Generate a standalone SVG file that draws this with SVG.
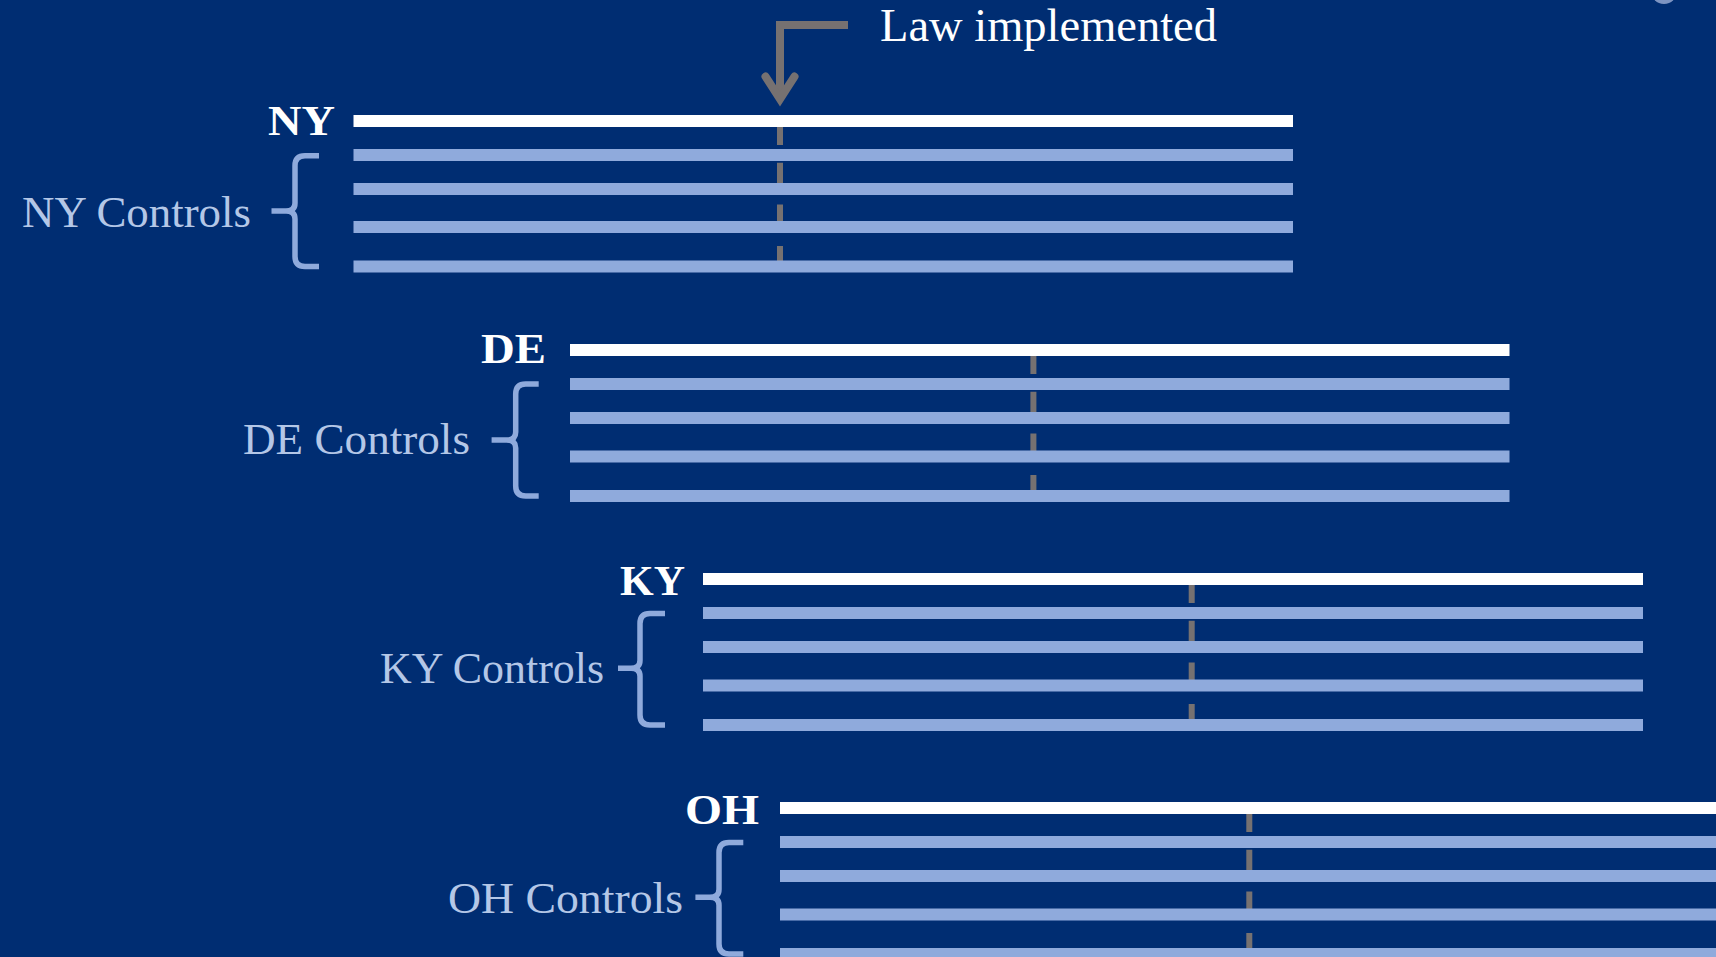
<svg xmlns="http://www.w3.org/2000/svg" width="1716" height="957" viewBox="0 0 1716 957">
  <defs>
    <style>
      .bg { fill: #002D72; }
      .treat { fill: #FFFFFF; }
      .ctrl { fill: #8FAADC; }
      .cut { stroke: #767171; stroke-width: 6; stroke-dasharray: 24 17.7; fill: none; }
      .brace { stroke: #8FAADC; stroke-width: 5.5; fill: none; stroke-linecap: butt; stroke-linejoin: round; }
      .state { font-family: "Liberation Serif", "Times New Roman", serif; font-weight: bold; font-size: 43px; fill: #FFFFFF; }
      .ctlabel { font-family: "Liberation Serif", "Times New Roman", serif; font-size: 45px; fill: #B4C7E7; }
      .note { font-family: "Liberation Serif", "Times New Roman", serif; font-size: 46px; fill: #FFFFFF; }
      .pointer { stroke: #767171; stroke-width: 8; fill: none; }
    </style>
  </defs>

  <rect class="bg" x="0" y="0" width="1716" height="957"/>
  <circle cx="1664" cy="-9" r="13" fill="#7D94C2"/>

  <!-- New York -->
  <g id="ny">
    <line class="cut" x1="780" y1="121" x2="780" y2="266"/>
    <rect class="treat" x="353.5" y="115" width="939.5" height="12"/>
    <rect class="ctrl" x="353.5" y="149" width="939.5" height="12"/>
    <rect class="ctrl" x="353.5" y="183" width="939.5" height="12"/>
    <rect class="ctrl" x="353.5" y="221" width="939.5" height="12"/>
    <rect class="ctrl" x="353.5" y="260.5" width="939.5" height="12"/>
    <text class="state" x="335" y="135" text-anchor="end" textLength="67" lengthAdjust="spacingAndGlyphs">NY</text>
    <path class="brace" d="M319,155.8 H305 Q295,155.8 295,165.8 V203 Q295,211 286,211 H271.5 M286,211 Q295,211 295,219 V256.5 Q295,266.5 305,266.5 H319"/>
    <text class="ctlabel" x="22" y="226.7" textLength="229" lengthAdjust="spacingAndGlyphs">NY Controls</text>
  </g>

  <!-- Delaware -->
  <g id="de">
    <line class="cut" x1="1033.4" y1="350" x2="1033.4" y2="495"/>
    <rect class="treat" x="570" y="344" width="939.5" height="12"/>
    <rect class="ctrl" x="570" y="378" width="939.5" height="12"/>
    <rect class="ctrl" x="570" y="412" width="939.5" height="12"/>
    <rect class="ctrl" x="570" y="450.5" width="939.5" height="12"/>
    <rect class="ctrl" x="570" y="490" width="939.5" height="12"/>
    <text class="state" x="546" y="362.7" text-anchor="end" textLength="65" lengthAdjust="spacingAndGlyphs">DE</text>
    <path class="brace" d="M538.7,384 H525.7 Q515.7,384 515.7,394 V432 Q515.7,440 506.7,440 H491.6 M506.7,440 Q515.7,440 515.7,448 V486 Q515.7,496 525.7,496 H538.7"/>
    <text class="ctlabel" x="243" y="454.3" textLength="227" lengthAdjust="spacingAndGlyphs">DE Controls</text>
  </g>

  <!-- Kentucky -->
  <g id="ky">
    <line class="cut" x1="1191.7" y1="579" x2="1191.7" y2="724"/>
    <rect class="treat" x="703" y="573" width="940" height="12"/>
    <rect class="ctrl" x="703" y="607" width="940" height="12"/>
    <rect class="ctrl" x="703" y="641" width="940" height="12"/>
    <rect class="ctrl" x="703" y="679.5" width="940" height="12"/>
    <rect class="ctrl" x="703" y="719" width="940" height="12"/>
    <text class="state" x="685" y="595" text-anchor="end" textLength="65" lengthAdjust="spacingAndGlyphs">KY</text>
    <path class="brace" d="M665,613.5 H650 Q640,613.5 640,623.5 V660.3 Q640,668.3 631,668.3 H618 M631,668.3 Q640,668.3 640,676.3 V715 Q640,725 650,725 H665"/>
    <text class="ctlabel" x="380" y="683.3" textLength="224" lengthAdjust="spacingAndGlyphs">KY Controls</text>
  </g>

  <!-- Ohio -->
  <g id="oh">
    <line class="cut" x1="1249.3" y1="808" x2="1249.3" y2="953"/>
    <rect class="treat" x="780" y="802" width="940" height="12"/>
    <rect class="ctrl" x="780" y="836" width="940" height="12"/>
    <rect class="ctrl" x="780" y="870" width="940" height="12"/>
    <rect class="ctrl" x="780" y="908.5" width="940" height="12"/>
    <rect class="ctrl" x="780" y="948" width="940" height="12"/>
    <text class="state" x="759" y="824" text-anchor="end" textLength="74" lengthAdjust="spacingAndGlyphs">OH</text>
    <path class="brace" d="M743.3,842.5 H729 Q719,842.5 719,852.5 V889.3 Q719,897.3 710,897.3 H695.4 M710,897.3 Q719,897.3 719,905.3 V944 Q719,954 729,954 H743.3"/>
    <text class="ctlabel" x="448" y="913.3" textLength="235" lengthAdjust="spacingAndGlyphs">OH Controls</text>
  </g>

  <!-- Connectors -->
  <g id="connectors">
    <path class="pointer" d="M848,25 H780 V100" stroke-linejoin="miter"/>
    <polyline class="pointer" points="765.5,76.5 780,99 794.5,76.5" stroke-linecap="round" stroke-linejoin="miter"/>
  </g>

  <text id="law-label" class="note" x="880" y="40.7" textLength="337" lengthAdjust="spacingAndGlyphs">Law implemented</text>
</svg>
